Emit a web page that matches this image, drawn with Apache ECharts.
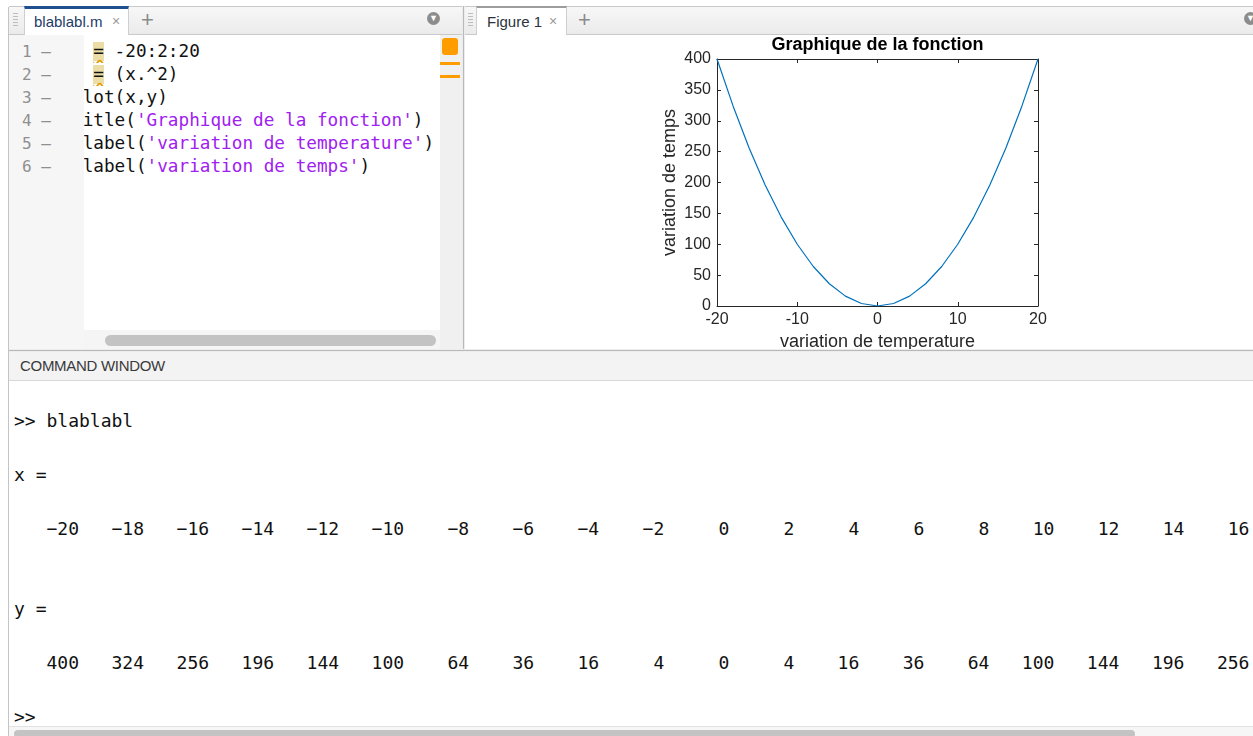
<!DOCTYPE html>
<html>
<head>
<meta charset="utf-8">
<script src="https://cdn.jsdelivr.net/npm/echarts@6/dist/echarts.min.js"></script>
<style>
  html,body{margin:0;padding:0;width:1253px;height:736px;overflow:hidden;background:#fff;font-family:"Liberation Sans",Arial,sans-serif;}
  .abs{position:absolute;}
  .mono{font-family:"DejaVu Sans Mono",monospace;}
  .tabbar{background:linear-gradient(#f7f7f7,#ebebeb);border-top:1px solid #c9c9c9;border-bottom:1px solid #c9c9c9;box-sizing:border-box;}
  .tab{background:#fff;box-sizing:border-box;border-left:1px solid #cfcfcf;border-right:1px solid #cfcfcf;font-size:15px;white-space:nowrap;}
  .grip{width:5px;height:14px;background:repeating-linear-gradient(#bdbdbd 0 1px,transparent 1px 3px);}
  .circ{width:13px;height:13px;border-radius:50%;background:#8c8c8c;color:#fff;font-size:9px;line-height:13px;text-align:center;}
  .ln{font-size:16px;color:#8f8f8f;white-space:pre;}
  .code{font-size:17.7px;color:#111;white-space:pre;}
  .str{color:#A020F0;}
  .warn{display:inline-block;height:19px;line-height:19px;background:#ecdca6;text-decoration:underline wavy #e39b00;text-underline-offset:2px;}
</style>
</head>
<body>
<!-- data -->
<script>
const xValues = [-20,-18,-16,-14,-12,-10,-8,-6,-4,-2,0,2,4,6,8,10,12,14,16,18,20];
const yValues = [400,324,256,196,144,100,64,36,16,4,0,4,16,36,64,100,144,196,256,324,400];
const xTicks = [-20,-10,0,10,20];
const yTicks = [0,50,100,150,200,250,300,350,400];
const chartTitle = 'Graphique de la fonction';
const xLabel = 'variation de temperature';
const yLabel = 'variation de temps';
</script>

<div class="abs" style="left:0;top:0;width:1253px;height:6px;background:#fff;"></div>
<div class="abs" style="left:8px;top:7px;width:1px;height:729px;background:#c4c4c4;"></div>

<!-- EDITOR PANEL -->
<div class="abs tabbar" style="left:9px;top:6px;width:454px;height:29px;"></div>
<div class="abs grip" style="left:13px;top:13px;"></div>
<div class="abs tab" style="left:24px;top:6px;width:105px;height:29px;border-top:3px solid #1f4f8f;">
  <span class="abs" style="left:9px;top:4px;color:#1d3b66;">blablabl.m</span>
  <span class="abs" style="left:87px;top:4px;color:#9a9a9a;font-size:14px;">×</span>
</div>
<div class="abs" style="left:141px;top:6px;color:#8a8a8a;font-size:22px;line-height:28px;">+</div>
<div class="abs circ" style="left:427px;top:12px;">▼</div>

<div class="abs" style="left:9px;top:35px;width:75px;height:314px;background:#f6f6f6;"></div>
<div class="abs" style="left:84px;top:35px;width:356px;height:295px;background:#fff;"></div>
<div class="abs" style="left:84px;top:330px;width:356px;height:19px;background:#f5f5f5;"></div>
<div class="abs" style="left:105px;top:335px;width:331px;height:11px;border-radius:6px;background:#c3c3c3;"></div>
<div class="abs" style="left:440px;top:35px;width:22px;height:314px;background:#f0f0f0;"></div>
<div class="abs" style="left:442px;top:38px;width:16px;height:17px;border-radius:3px;background:#ff9d00;"></div>
<div class="abs" style="left:440px;top:62px;width:20px;height:3px;background:#ff9d00;"></div>
<div class="abs" style="left:440px;top:75px;width:20px;height:3px;background:#ff9d00;"></div>

<div id="lines"></div>

<div class="abs" style="left:462px;top:6px;width:3px;height:344px;background:#ececec;"></div>
<div class="abs" style="left:463px;top:6px;width:1px;height:344px;background:#b9b9b9;"></div>

<!-- FIGURE PANEL -->
<div class="abs tabbar" style="left:465px;top:6px;width:788px;height:29px;"></div>
<div class="abs grip" style="left:468px;top:13px;"></div>
<div class="abs tab" style="left:476px;top:6px;width:91px;height:29px;border-top:2px solid #9c9c9c;">
  <span class="abs" style="left:10px;top:5px;color:#2b3440;">Figure 1</span>
  <span class="abs" style="left:72px;top:5px;color:#9a9a9a;font-size:14px;">×</span>
</div>
<div class="abs" style="left:578px;top:6px;color:#8a8a8a;font-size:22px;line-height:28px;">+</div>
<div class="abs circ" style="left:1244px;top:12px;">▼</div>
<div class="abs" style="left:465px;top:35px;width:788px;height:314px;background:#fff;"></div>
<div id="chart" class="abs" style="left:465px;top:35px;width:788px;height:314px;"></div>

<div class="abs" style="left:9px;top:349px;width:1244px;height:3px;background:#ededed;"></div>
<div class="abs" style="left:9px;top:350px;width:1244px;height:1px;background:#b9b9b9;"></div>

<!-- COMMAND WINDOW -->
<div class="abs" style="left:9px;top:352px;width:1244px;height:28px;background:#f3f3f3;border-bottom:1px solid #d8d8d8;"></div>
<div class="abs" style="left:20px;top:357px;font-size:15px;color:#3a3a3a;letter-spacing:-0.3px;">COMMAND WINDOW</div>
<pre id="cmd" class="abs mono" style="left:14px;top:408px;margin:0;font-size:18px;line-height:26.9px;color:#111;width:1239px;overflow:hidden;"></pre>
<div class="abs" style="left:9px;top:726px;width:1244px;height:10px;background:#f6f6f6;border-top:1px solid #e2e2e2;"></div>
<div class="abs" style="left:14px;top:730px;width:1121px;height:8px;border-radius:5px;background:#c3c3c3;"></div>

<script>
const codeLines = [
  ['x',' ','<span class="warn">=</span>',' -20:2:20'],
  ['y',' ','<span class="warn">=</span>',' (x.^2)'],
  ['plot(x,y)'],
  ['title(<span class="str">\'Graphique de la fonction\'</span>)'],
  ['xlabel(<span class="str">\'variation de temperature\'</span>)'],
  ['ylabel(<span class="str">\'variation de temps\'</span>)']
];
let html = '';
codeLines.forEach((parts, i) => {
  const top = 40 + i * 23;
  html += `<div class="abs mono ln" style="left:22px;top:${top+2}px;">${i+1} –</div>`;
  html += `<div class="abs" style="left:84px;top:${top}px;width:356px;height:23px;overflow:hidden;">` +
          `<div class="abs mono code" style="left:-12px;top:0;line-height:23px;">${parts.join('')}</div></div>`;
});
document.getElementById('lines').innerHTML = html;

const fmt = arr => arr.map(v => String(v).replace('-', '−').padStart(6, ' ')).join('');
const cmdText = [
  '>> blablabl', '', 'x =', '', fmt(xValues), '', '', 'y =', '', fmt(yValues), '', '>>'
].join('\n');
document.getElementById('cmd').textContent = cmdText;

const chart = echarts.init(document.getElementById('chart'), null, {renderer: 'canvas'});
const axisColor = '#262626';
const ff = 'Liberation Sans, Arial, sans-serif';
const tickFont = {fontFamily: ff, fontSize: 16, color: '#262626'};
const gridLeft = 252, gridTop = 24, gridW = 321, gridH = 247;
const axisCommon = {
  axisLine: {show: true, onZero: false, lineStyle: {color: axisColor, width: 1}},
  axisTick: {show: true, inside: true, length: 4, lineStyle: {color: axisColor}},
  splitLine: {show: false}
};
chart.setOption({
  animation: false,
  grid: {left: gridLeft, top: gridTop, width: gridW, height: gridH, containLabel: false, outerBoundsMode: 'none'},
  graphic: [{
    type: 'text', x: gridLeft + gridW / 2, y: 10,
    style: {text: chartTitle, textAlign: 'center', textVerticalAlign: 'middle', fontFamily: ff,
            fontSize: 18, fontWeight: 'bold', fill: '#000'}
  }],
  xAxis: [Object.assign({
    type: 'value', min: -20, max: 20, interval: 10, position: 'bottom',
    name: xLabel, nameLocation: 'middle', nameGap: 23,
    nameTextStyle: {fontFamily: ff, fontSize: 18, color: '#262626'},
    axisLabel: Object.assign({margin: 6, formatter: v => xTicks.includes(v) ? String(v) : ''}, tickFont)
  }, axisCommon), Object.assign({
    type: 'value', min: -20, max: 20, interval: 10, position: 'top',
    axisLabel: {show: false}
  }, axisCommon)],
  yAxis: [Object.assign({
    type: 'value', min: 0, max: 400, interval: 50, position: 'left',
    name: yLabel, nameLocation: 'middle', nameGap: 38, nameRotate: 90,
    nameTextStyle: {fontFamily: ff, fontSize: 18, color: '#262626'},
    axisLabel: Object.assign({margin: 6, formatter: v => yTicks.includes(v) ? String(v) : ''}, tickFont)
  }, axisCommon), Object.assign({
    type: 'value', min: 0, max: 400, interval: 50, position: 'right',
    axisLabel: {show: false}
  }, axisCommon)],
  series: [{
    type: 'line', xAxisIndex: 0, yAxisIndex: 0,
    data: xValues.map((x, i) => [x, yValues[i]]),
    showSymbol: false, symbol: 'none', smooth: false,
    lineStyle: {color: '#0072BD', width: 1.2},
    z: 1
  }]
});
</script>
</body>
</html>
